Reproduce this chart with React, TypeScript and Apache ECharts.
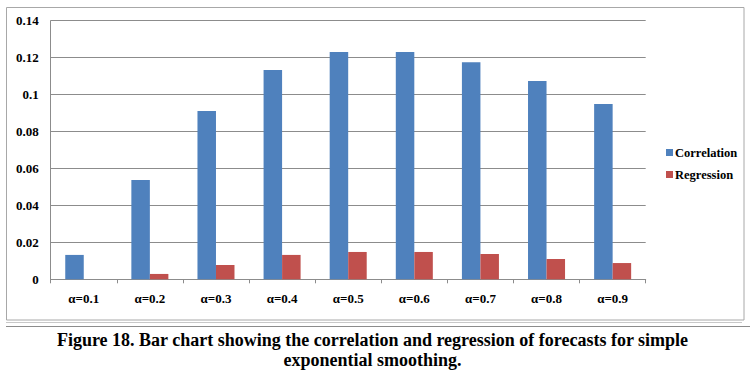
import React, { useEffect, useRef } from "react";
import * as echarts from "echarts";

const categories = ["α=0.1", "α=0.2", "α=0.3", "α=0.4", "α=0.5", "α=0.6", "α=0.7", "α=0.8", "α=0.9"];
const correlation = [0.0132, 0.0538, 0.0911, 0.1133, 0.1231, 0.1231, 0.1175, 0.1074, 0.0949];
const regression = [0, 0.0029, 0.0077, 0.0132, 0.0148, 0.0148, 0.0137, 0.011, 0.0088];
const seriesNames = ["Correlation", "Regression"];
const captionLines = [
  "Figure 18. Bar chart showing the correlation and regression of forecasts for simple",
  "exponential smoothing.",
];

const FONT = "Liberation Serif";

export default function App() {
  const ref = useRef<HTMLDivElement>(null);
  useEffect(() => {
    if (!ref.current) return;
    const chart = echarts.init(ref.current, undefined, { renderer: "svg" });
    chart.setOption({
      animation: false,
      backgroundColor: "#ffffff",
      grid: { left: 50.7, right: 108.3, top: 20.7, bottom: 93.7, containLabel: false },
      legend: {
        orient: "vertical",
        left: 661,
        top: 141,
        itemWidth: 7,
        itemHeight: 7,
        itemGap: 9,
        icon: "rect",
        data: seriesNames,
        textStyle: {
          fontFamily: FONT,
          fontWeight: "bold",
          fontSize: 12.5,
          color: "#000",
          padding: [0, 0, 0, -3],
        },
      },
      xAxis: {
        type: "category",
        data: categories,
        axisLine: { show: true, lineStyle: { color: "#8c8c8c", width: 1 } },
        axisTick: { show: true, length: 4, lineStyle: { color: "#8c8c8c" } },
        axisLabel: {
          fontFamily: FONT,
          fontWeight: "bold",
          fontSize: 13,
          color: "#000",
          margin: 13,
        },
      },
      yAxis: {
        type: "value",
        min: 0,
        max: 0.14,
        interval: 0.02,
        axisLine: { show: true, lineStyle: { color: "#8c8c8c", width: 1 } },
        axisTick: { show: false },
        splitLine: { show: true, lineStyle: { color: "#8c8c8c", width: 1 } },
        axisLabel: {
          fontFamily: FONT,
          fontWeight: "bold",
          fontSize: 13,
          color: "#000",
          margin: 12,
          formatter: (v: number) => String(+v.toFixed(2)),
        },
      },
      series: [
        {
          name: seriesNames[0],
          type: "bar",
          data: correlation,
          barGap: "0%",
          barCategoryGap: "44%",
          itemStyle: { color: "#4F81BD" },
        },
        {
          name: seriesNames[1],
          type: "bar",
          data: regression,
          itemStyle: { color: "#C0504D" },
        },
      ],
      graphic: [
        {
          type: "rect",
          shape: { x: 6.5, y: 7.5, width: 737.5, height: 312.5 },
          style: { fill: "none", stroke: "#a8a8a8", lineWidth: 1 },
          silent: true,
          z: -1,
        },
        {
          type: "line",
          shape: { x1: 6, y1: 322.5, x2: 742, y2: 322.5 },
          style: { stroke: "#c8c8c8", lineWidth: 1 },
        },
        {
          type: "line",
          shape: { x1: 6, y1: 326.5, x2: 750, y2: 326.5 },
          style: { stroke: "#8c8c8c", lineWidth: 1 },
        },
        {
          type: "text",
          x: 372.5,
          y: 340,
          style: {
            text: captionLines[0],
            fontFamily: FONT,
            fontWeight: "bold",
            fontSize: 18,
            fill: "#000",
            textAlign: "center",
            textVerticalAlign: "middle",
          },
        },
        {
          type: "text",
          x: 372.5,
          y: 360,
          style: {
            text: captionLines[1],
            fontFamily: FONT,
            fontWeight: "bold",
            fontSize: 18,
            fill: "#000",
            textAlign: "center",
            textVerticalAlign: "middle",
          },
        },
      ],
    });
    return () => chart.dispose();
  }, []);
  return (
    <div
      ref={ref}
      style={{ position: "fixed", left: 0, top: 0, width: 754, height: 373, background: "#fff" }}
    />
  );
}
